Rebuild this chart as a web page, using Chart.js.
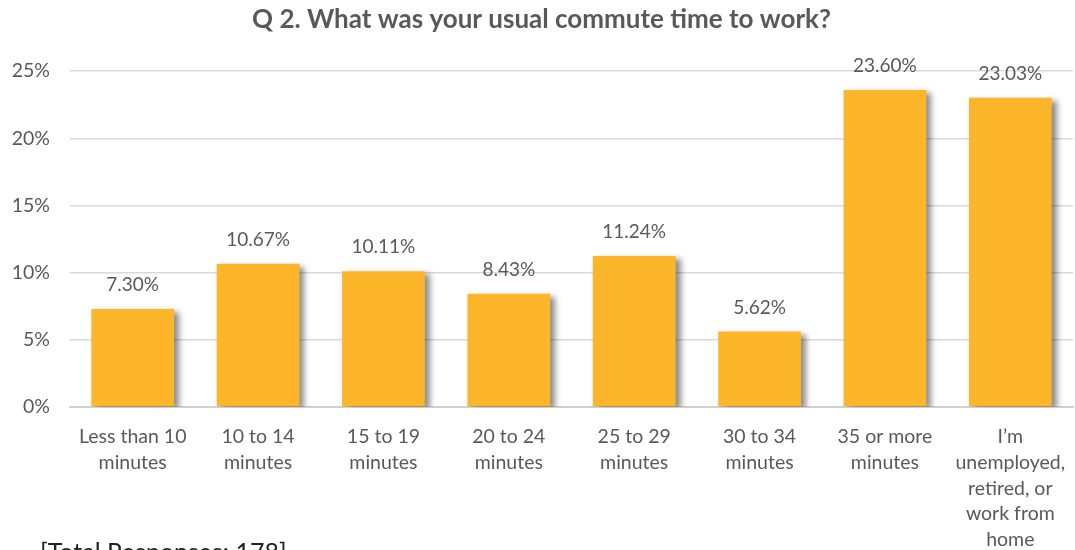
<!DOCTYPE html>
<html>
<head>
<meta charset="utf-8">
<script src="https://cdn.jsdelivr.net/npm/chart.js@4"></script>
<style>
  html, body { margin: 0; padding: 0; background: #fff; }
  #wrap { width: 1075px; height: 550px; }
</style>
</head>
<body>
<div id="wrap"><canvas id="myChart"></canvas></div>
<script>
var categories = [
  ["Less than 10", "minutes"],
  ["10 to 14", "minutes"],
  ["15 to 19", "minutes"],
  ["20 to 24", "minutes"],
  ["25 to 29", "minutes"],
  ["30 to 34", "minutes"],
  ["35 or more", "minutes"],
  ["I\u2019m", "unemployed,", "retired, or", "work from", "home"]
];
var percents = [7.30, 10.67, 10.11, 8.43, 11.24, 5.62, 23.60, 23.03];
var yTicks = [0, 5, 10, 15, 20, 25];
var totalResponses = 178;

var fontFamily = "Lato, 'Noto Sans', sans-serif";
var textColor = "#595959";

// bar shadow + value labels + footnote
var barExtras = {
  id: "barExtras",
  beforeDatasetsDraw: function (chart) {
    var ctx = chart.ctx;
    ctx.save();
    ctx.shadowColor = "rgba(0, 0, 0, 0.45)";
    ctx.shadowBlur = 6;
    ctx.shadowOffsetX = 5;
    ctx.shadowOffsetY = 3;
  },
  afterDatasetsDraw: function (chart) {
    var ctx = chart.ctx;
    ctx.restore();
    var meta = chart.getDatasetMeta(0);
    ctx.save();
    ctx.font = "19px " + fontFamily;
    ctx.fillStyle = textColor;
    ctx.textAlign = "center";
    ctx.textBaseline = "middle";
    meta.data.forEach(function (bar, i) {
      ctx.fillText(percents[i].toFixed(2) + "%", bar.x, bar.y - 24);
    });
    ctx.restore();
  },
  afterDraw: function (chart) {
    var ctx = chart.ctx;
    ctx.save();
    ctx.font = "25px " + fontFamily;
    ctx.fillStyle = "#222";
    ctx.textAlign = "left";
    ctx.textBaseline = "top";
    ctx.fillText("[Total Responses: " + totalResponses + "]", 40, 540);
    ctx.restore();
  }
};

var ctx = document.getElementById("myChart").getContext("2d");
var myChart = new Chart(ctx, {
  type: "bar",
  data: {
    labels: categories,
    datasets: [
      {
        data: percents,
        backgroundColor: "#FDB52A",
        barPercentage: 0.66,
        categoryPercentage: 1,
      },
    ],
  },
  options: {
    responsive: true,
    maintainAspectRatio: false,
    animation: false,
    layout: { padding: { left: 10, right: 2, top: 0, bottom: 0 } },
    plugins: {
      legend: { display: false },
      tooltip: { enabled: false },
      title: {
        display: true,
        text: "Q 2. What was your usual commute time to work?",
        color: textColor,
        font: { family: fontFamily, size: 26, weight: "bold", lineHeight: 1.2 },
        padding: { top: 4, bottom: 36 },
      },
    },
    scales: {
      x: {
        grid: { display: false, drawTicks: false },
        border: { display: true, color: "#d0d0d0", width: 2 },
        ticks: {
          color: textColor,
          font: { family: fontFamily, size: 19.5, lineHeight: 1.32 },
          padding: 17,
          maxRotation: 0,
          autoSkip: false,
        },
        afterFit: function (axis) {
          axis.height = 143;
          axis.paddingLeft = 0;
          axis.paddingRight = 0;
        },
      },
      y: {
        min: 0,
        max: 25,
        afterBuildTicks: function (axis) {
          axis.ticks = yTicks.map(function (v) { return { value: v }; });
        },
        grid: { color: "#d9d9d9", lineWidth: 1.5, drawTicks: false },
        border: { display: false },
        ticks: {
          color: textColor,
          font: { family: fontFamily, size: 19.5 },
          padding: 20,
          callback: function (v) { return v + "%"; },
        },
        afterFit: function (axis) {
          axis.width = 60;
          axis.paddingTop = 0;
          axis.paddingBottom = 0;
        },
      },
    },
  },
  plugins: [barExtras],
});
</script>
</body>
</html>
